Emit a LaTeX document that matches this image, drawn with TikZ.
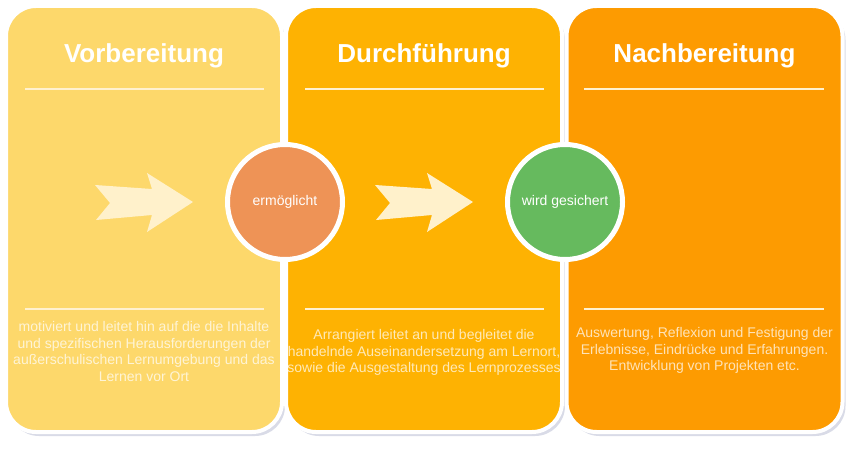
\documentclass[tikz,border=0pt]{standalone}
\usepackage{fontspec}
\setmainfont{Liberation Sans}
\usetikzlibrary{shadows}
\definecolor{cA}{HTML}{FDD86B}
\definecolor{cB}{HTML}{FEB202}
\definecolor{cC}{HTML}{FD9B01}
\definecolor{cRed}{HTML}{EE9356}
\definecolor{cGreen}{HTML}{66BA5E}
\definecolor{cArrow}{HTML}{FFF1CB}
\definecolor{cLine}{HTML}{FFF1CF}
\definecolor{cShadow}{HTML}{C9CDDD}
\begin{document}
\begin{tikzpicture}[x=1pt,y=-1pt,
  phase/.style={rectangle, rounded corners=30pt, minimum width=276pt, minimum height=426pt,
    inner sep=0pt, draw=white, line width=4pt,
    drop shadow={shadow xshift=3pt, shadow yshift=-4pt, fill=cShadow, opacity=0.7}},
  title/.style={font=\fontsize{26}{30}\selectfont\bfseries, text=white, anchor=base, inner sep=0pt},
  body/.style={font=\fontsize{14}{16.7}\selectfont, text=white, text opacity=0.72, align=center, anchor=north, inner sep=0pt},
  hline/.style={draw=cLine, line width=2pt},
  chevron/.style={fill=cArrow, draw=none},
  joint/.style={circle, minimum size=115pt, inner sep=0pt, draw=white, line width=5pt, text=white, font=\fontsize{14}{16}\selectfont}
]
\fill[white] (0,0) rectangle (859,449);
\useasboundingbox (0,0) rectangle (859,449);

\node[phase, fill=cA] (b1) at (144,219) {};
\node[phase, fill=cB] (b2) at (424,219) {};
\node[phase, fill=cC] (b3) at (704.5,219) {};

\node[title] (t1) at (144,63) {Vorbereitung};
\node[title] (t2) at (424,63) {Durchführung};
\node[title] (t3) at (704.5,63) {Nachbereitung};

\draw[hline] (25,89) -- (264,89);
\draw[hline] (305,89) -- (544,89);
\draw[hline] (584,89) -- (824,89);
\draw[hline] (25,309) -- (264,309);
\draw[hline] (305,309) -- (544,309);
\draw[hline] (584,309) -- (824,309);

\fill[chevron] (95,185) -- (110,203) -- (96,220) -- (152,215) -- (147,232) -- (193,202) -- (147,173) -- (152,189) -- cycle;
\fill[chevron] (375,185) -- (390,203) -- (376,220) -- (432,215) -- (427,232) -- (473,202) -- (427,173) -- (432,189) -- cycle;

\node[joint, fill=cRed] (c1) at (285,202) {ermöglicht};
\node[joint, fill=cGreen] (c2) at (565,202) {wird gesichert};

\node[body] (d1) at (144,321) {motiviert und leitet hin auf die die Inhalte\\und spezifischen Herausforderungen der\\außerschulischen Lernumgebung und das\\Lernen vor Ort};
\node[body] (d2) at (424,329) {Arrangiert leitet an und begleitet die\\handelnde Auseinandersetzung am Lernort,\\sowie die Ausgestaltung des Lernprozesses};
\node[body] (d3) at (704.5,327) {Auswertung, Reflexion und Festigung der\\Erlebnisse, Eindrücke und Erfahrungen.\\Entwicklung von Projekten etc.};
\end{tikzpicture}
\end{document}
